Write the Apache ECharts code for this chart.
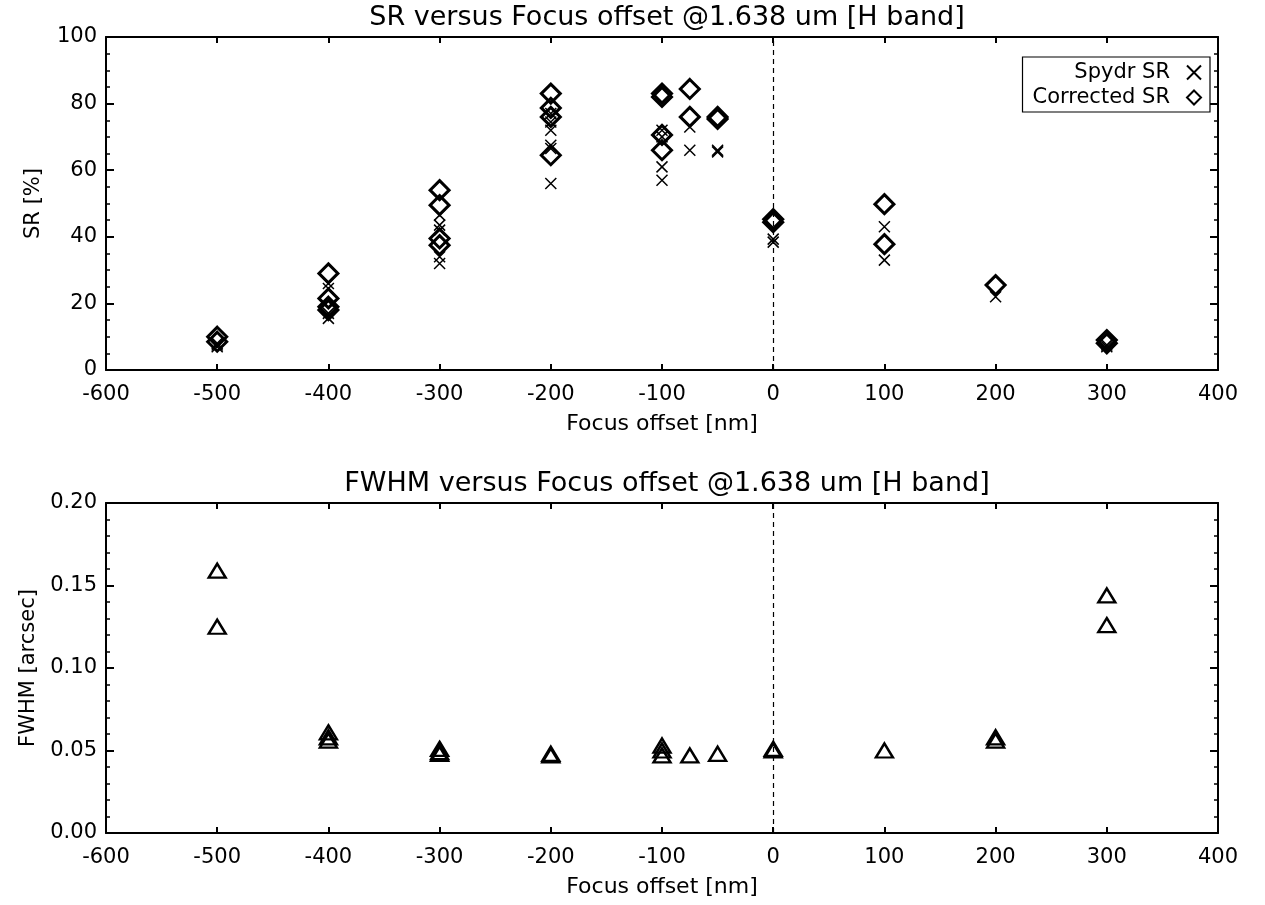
<!DOCTYPE html>
<html>
<head>
<meta charset="utf-8">
<script src="https://cdn.jsdelivr.net/npm/echarts@6/dist/echarts.min.js"></script>
<style>html,body{margin:0;padding:0;background:#fff;}#c{width:1265px;height:905px;}</style>
</head>
<body>
<div id="c"></div>
<script>
// ---- data ----
var spydrX  = [-500,-500,-500, -400,-400,-400,-400, -300,-300,-300,-300,-300, -200,-200,-200,-200,-200,-200, -100,-100,-100,-100, -75,-75, -50,-50, 0,0, 100,100, 200, 300,300];
var spydrSR = [7,8,7.5, 26,24.5,17,15.5, 46.5,43.5,42,34,32, 77,74.5,72,67.5,66.5,56, 72,70,61,57, 73,66, 66,65.5, 39.3,38.4, 43,33, 22, 7.5,7];
var corrX   = [-500,-500, -400,-400,-400,-400, -300,-300,-300,-300, -200,-200,-200,-200, -100,-100,-100,-100, -75,-75, -50,-50, 0,0, 100,100, 200, 300,300];
var corrSR  = [10,8.5, 29,21.5,19,18, 54,49.5,39.5,37.5, 83,78.7,76,64.5, 83,82,70.6,66, 84.4,76, 76,75.4, 45.3,44.4, 49.8,37.8, 25.5, 9,8];
var fwhmX   = [-500,-500, -400,-400,-400, -300,-300,-300, -200,-200, -100,-100,-100, -75, -50, 0,0, 100, 200,200, 300,300];
var fwhmVal = [0.159,0.125, 0.061,0.058,0.056, 0.051,0.049,0.048, 0.048,0.047, 0.053,0.050,0.047, 0.047, 0.048, 0.051,0.050, 0.050, 0.058,0.056, 0.144,0.126];
var titles  = ['SR versus Focus offset @1.638 um [H band]', 'FWHM versus Focus offset @1.638 um [H band]'];

function pairs(xs, ys){ return xs.map(function(x,i){ return [x, ys[i]]; }); }

var FONT = 'DejaVu Sans';

function xAx(grid, pos, show){
  return {
    type: 'value', gridIndex: grid, position: pos, min: -600, max: 400, interval: 100,
    splitLine: {show: false},
    axisLine: {show: true, onZero: false, lineStyle: {color: '#000', width: 2}},
    axisTick: {show: true, inside: true, length: 6, lineStyle: {color: '#000', width: 2}},
    axisLabel: {show: show, margin: 14, fontSize: 21, fontFamily: FONT, color: '#000'},
    name: show ? 'Focus offset [nm]' : '', nameLocation: 'middle', nameGap: 43,
    nameTextStyle: {fontSize: 22, fontFamily: FONT, color: '#000'}
  };
}
function yAx(grid, pos, show, min, max, interval, name, fmt){
  return {
    type: 'value', gridIndex: grid, position: pos, min: min, max: max, interval: interval,
    splitLine: {show: false},
    axisLine: {show: true, onZero: false, lineStyle: {color: '#000', width: 2}},
    axisTick: {show: true, inside: true, length: 8, lineStyle: {color: '#000', width: 2}},
    minorTick: {show: true, splitNumber: interval === 20 ? 4 : 5, length: 4, lineStyle: {color: '#000', width: 1.5}},
    axisLabel: {show: show, margin: 9, fontSize: 21, fontFamily: FONT, color: '#000', formatter: fmt},
    name: show ? name : '', nameLocation: 'middle', nameGap: 62,
    nameTextStyle: {fontSize: 21, fontFamily: FONT, color: '#000'}
  };
}

var dashLine = {
  silent: true, symbol: 'none', label: {show: false},
  lineStyle: {color: '#000', type: [5, 4], width: 1.2},
  data: [{xAxis: 0}]
};

var crossPath = 'path://M0,0L10,10M0,10L10,0';
var legText = {fontSize: 21, fontFamily: FONT, color: '#000', padding: [0, 12, 0, 0]};

var option = {
  backgroundColor: '#fff',
  animation: false,
  title: [
    {text: titles[0], left: 662, top: -1, textAlign: 'center', textStyle: {fontSize: 27, fontWeight: 'normal', fontFamily: FONT, color: '#000'}},
    {text: titles[1], left: 662, top: 465, textAlign: 'center', textStyle: {fontSize: 27, fontWeight: 'normal', fontFamily: FONT, color: '#000'}}
  ],
  legend: [
    {data: ['Corrected SR'], orient: 'vertical', align: 'right', right: 55, top: 57,
     padding: [30, 8, 4, 10], borderColor: '#000', borderWidth: 1.2, itemWidth: 14, itemHeight: 14,
     selectedMode: false, textStyle: legText},
    {data: ['Spydr SR'], orient: 'vertical', align: 'right', right: 55, top: 57,
     padding: [5, 8, 0, 0], itemWidth: 14, itemHeight: 14,
     selectedMode: false, textStyle: legText}
  ],
  grid: [
    {left: 106, right: 47, top: 37, height: 333},
    {left: 106, right: 47, top: 503, height: 330}
  ],
  xAxis: [xAx(0, 'bottom', true), xAx(0, 'top', false), xAx(1, 'bottom', true), xAx(1, 'top', false)],
  yAxis: [
    yAx(0, 'left', true, 0, 100, 20, 'SR [%]'),
    yAx(0, 'right', false, 0, 100, 20, ''),
    yAx(1, 'left', true, 0, 0.2, 0.05, 'FWHM [arcsec]', function(v){ return v.toFixed(2); }),
    yAx(1, 'right', false, 0, 0.2, 0.05, '')
  ],
  series: [
    {name: 'Spydr SR', type: 'scatter', xAxisIndex: 0, yAxisIndex: 0, data: pairs(spydrX, spydrSR),
     symbol: crossPath, symbolSize: 11,
     itemStyle: {color: 'rgba(0,0,0,0)', borderColor: '#000', borderWidth: 1.5, opacity: 1},
     markLine: dashLine, z: 3},
    {name: 'Corrected SR', type: 'scatter', xAxisIndex: 0, yAxisIndex: 0, data: pairs(corrX, corrSR),
     symbol: 'diamond', symbolSize: [19, 19],
     itemStyle: {color: 'rgba(255,255,255,0)', borderColor: '#000', borderWidth: 3, opacity: 1}, z: 4},
    {name: 'FWHM', type: 'scatter', xAxisIndex: 2, yAxisIndex: 2, data: pairs(fwhmX, fwhmVal),
     symbol: 'triangle', symbolSize: [17, 14],
     itemStyle: {color: 'rgba(255,255,255,0)', borderColor: '#000', borderWidth: 2.4, opacity: 1},
     markLine: dashLine, z: 3}
  ]
};

var chart = echarts.init(document.getElementById('c'), null, {renderer: 'canvas'});
chart.setOption(option);
</script>
</body>
</html>
